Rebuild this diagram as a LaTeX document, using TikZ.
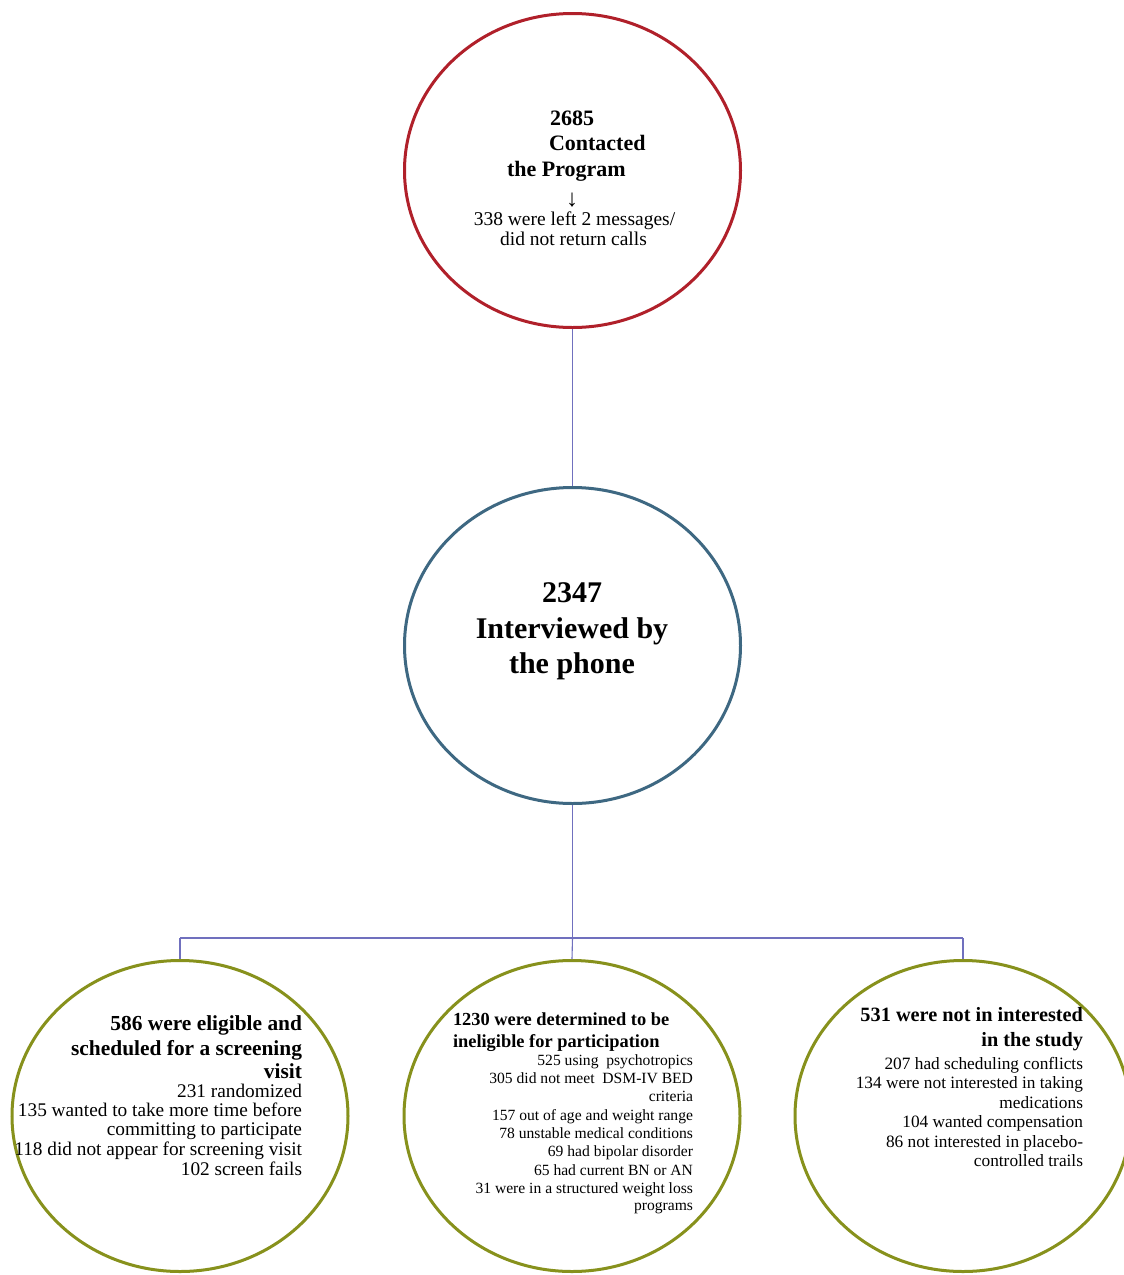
\documentclass[tikz,border=0pt]{standalone}
\usepackage{fontspec}
\setmainfont{Liberation Serif}
\usetikzlibrary{shapes.geometric}
\definecolor{topred}{RGB}{176,32,42}
\definecolor{midblue}{RGB}{62,104,130}
\definecolor{olivegreen}{RGB}{135,145,28}
\definecolor{conn}{RGB}{112,112,190}
\begin{document}
\begin{tikzpicture}[x=1pt,y=-1pt,
  bubble/.style={ellipse, draw, line width=3pt, minimum width=336pt, minimum height=314pt, inner sep=0pt},
  link/.style={draw=conn, line width=1.1pt},
  txt/.style={inner sep=0pt, outer sep=0pt},
  topbold/.style={txt, font=\fontsize{22}{26}\selectfont\bfseries},
  topreg/.style={txt, font=\fontsize{19.5}{20}\selectfont},
  arrowtxt/.style={txt, font=\fontsize{24}{24}\selectfont, text depth=0pt},
  midbold/.style={txt, font=\fontsize{30}{36}\selectfont\bfseries},
  lbold/.style={txt, font=\fontsize{21.4}{24}\selectfont\bfseries, anchor=base east},
  lreg/.style={txt, font=\fontsize{19.3}{19.5}\selectfont, anchor=base east},
  mbold/.style={txt, font=\fontsize{18.4}{22}\selectfont\bfseries, anchor=base west},
  mreg/.style={txt, font=\fontsize{15.6}{18.3}\selectfont, anchor=base east},
  rbold/.style={txt, font=\fontsize{20.3}{25}\selectfont\bfseries, anchor=base east},
  rreg/.style={txt, font=\fontsize{17.3}{19.5}\selectfont, anchor=base east}
]
\clip (0,0) rectangle (1124,1275);
\fill[white] (0,0) rectangle (1124,1275);

% circles
\node[bubble, draw=topred] (top) at (572.5,170.5) {};
\node[bubble, draw=midblue, minimum height=316pt] (mid) at (572.5,645.5) {};
\node[bubble, draw=olivegreen, minimum height=311pt] (bl) at (180,1116) {};
\node[bubble, draw=olivegreen, minimum height=311pt] (bm) at (572,1116) {};
\node[bubble, draw=olivegreen, minimum height=311pt] (br) at (963,1116) {};

% connectors
\coordinate (j) at (572.5,938);
\coordinate (jl) at (180,938);
\coordinate (jr) at (963,938);
\draw[link] (top.south) -- (mid.north);
\draw[link] (mid.south) -- (j);
\draw[link] (jl) -- (jr);
\draw[link] (jl) -- (bl.north);
\draw[link] (j) -- (bm.north);
\draw[link] (jr) -- (br.north);

% top text
\node[topbold, anchor=base west] (t1) at (550,125) {2685};
\node[topbold, anchor=base west] (t2) at (549,150) {Contacted};
\node[topbold, anchor=base west] (t3) at (507,176) {the Program};
\node[arrowtxt, anchor=base] (t4) at (572,206) {↓};
\node[topreg, anchor=base] (t5) at (574.5,225) {338 were left 2 messages/};
\node[topreg, anchor=base] (t6) at (573.5,245) {did not return calls};

% middle text
\node[midbold, anchor=base] (m1) at (572,602) {2347};
\node[midbold, anchor=base] (m2) at (572,638) {Interviewed by};
\node[midbold, anchor=base] (m3) at (572,673) {the phone};

% left bottom text
\node[lbold] (l1) at (302,1030) {586 were eligible and};
\node[lbold] (l2) at (302,1055) {scheduled for a screening};
\node[lbold] (l3) at (302,1078) {visit};
\node[lreg] (l4) at (302,1097) {231 randomized};
\node[lreg] (l5) at (302,1116) {135 wanted to take more time before};
\node[lreg] (l6) at (302,1135) {committing to participate};
\node[lreg] (l7) at (302,1155) {118 did not appear for screening visit};
\node[lreg] (l8) at (302,1175) {102 screen fails};

% middle bottom text
\node[mbold] (b1) at (453,1025) {1230 were determined to be};
\node[mbold] (b2) at (453,1047) {ineligible for participation};
\node[mreg] (b3) at (693,1065) {525 using\ \ psychotropics};
\node[mreg] (b4) at (693,1083.3) {305 did not meet\ \ DSM-IV BED};
\node[mreg] (b5) at (693,1101.6) {criteria};
\node[mreg] (b6) at (693,1120) {157 out of age and weight range};
\node[mreg] (b7) at (693,1138) {78 unstable medical conditions};
\node[mreg] (b8) at (693,1156.5) {69 had bipolar disorder};
\node[mreg] (b9) at (693,1175) {65 had current BN or AN};
\node[mreg] (b10) at (693,1193) {31 were in a structured weight loss};
\node[mreg] (b11) at (693,1210) {programs};

% right bottom text
\node[rbold] (r1) at (1083,1021) {531 were not in interested};
\node[rbold] (r2) at (1083,1046) {in the study};
\node[rreg] (r3) at (1083,1069) {207 had scheduling conflicts};
\node[rreg] (r4) at (1083,1088.5) {134 were not interested in taking};
\node[rreg] (r5) at (1083,1108) {medications};
\node[rreg] (r6) at (1083,1127.5) {104 wanted compensation};
\node[rreg] (r7) at (1083,1147) {86 not interested in placebo-};
\node[rreg] (r8) at (1083,1166.5) {controlled trails};
\end{tikzpicture}
\end{document}
